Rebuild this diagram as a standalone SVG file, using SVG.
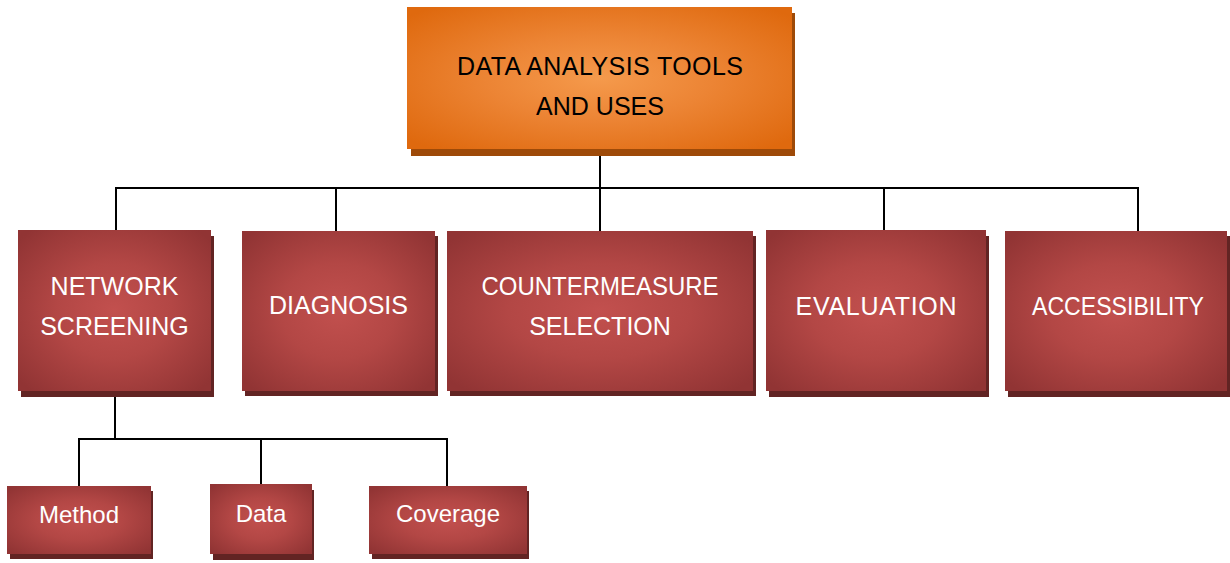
<svg xmlns="http://www.w3.org/2000/svg" width="1230" height="563" viewBox="0 0 1230 563">
  <defs>
    <radialGradient id="gRed" cx="0.5" cy="0.5" r="0.66">
      <stop offset="0" stop-color="#c2504e"/>
      <stop offset="0.45" stop-color="#b34745"/>
      <stop offset="1" stop-color="#913434"/>
    </radialGradient>
    <radialGradient id="gOrange" cx="0.5" cy="0.5" r="0.66">
      <stop offset="0" stop-color="#f59a4c"/>
      <stop offset="0.45" stop-color="#ec8434"/>
      <stop offset="1" stop-color="#df690e"/>
    </radialGradient>
    <style>
      .box { fill: url(#gRed); }
      .shadow { fill: #622423; }
      .top { fill: url(#gOrange); }
      .topShadow { fill: #9e4a08; }
      .lbl { font-family: "Liberation Sans", Arial, sans-serif; font-size: 25px; fill: #ffffff; text-anchor: middle; }
      .lblTop { font-family: "Liberation Sans", Arial, sans-serif; font-size: 25px; fill: #000000; text-anchor: middle; }
      .lblSmall { font-family: "Liberation Sans", Arial, sans-serif; font-size: 24px; fill: #ffffff; text-anchor: middle; }
      .wire { fill: none; stroke: #000000; stroke-width: 2; }
    </style>
  </defs>

  <!-- connectors -->
  <g id="connectors">
    <path class="wire" d="M600 149 V232"/>
    <path class="wire" d="M116 232 V188 H1138 V232"/>
    <path class="wire" d="M336 188 V232"/>
    <path class="wire" d="M884 188 V232"/>
    <path class="wire" d="M115 391 V439"/>
    <path class="wire" d="M79 486 V439 H447 V486"/>
    <path class="wire" d="M261 439 V484"/>
  </g>

  <!-- root -->
  <g id="root">
    <rect class="topShadow" x="411" y="13" width="384" height="143"/>
    <rect class="top" x="407" y="7" width="385" height="142"/>
    <text class="lblTop" x="600" y="75" textLength="286" lengthAdjust="spacing">DATA ANALYSIS TOOLS</text>
    <text class="lblTop" x="600" y="115">AND USES</text>
  </g>

  <!-- second level -->
  <g id="network-screening">
    <rect class="shadow" x="21" y="236" width="193" height="161"/>
    <rect class="box" x="18" y="230" width="193" height="161"/>
    <text class="lbl" x="114.5" y="295">NETWORK</text>
    <text class="lbl" x="114.5" y="335">SCREENING</text>
  </g>
  <g id="diagnosis">
    <rect class="shadow" x="245" y="236" width="193" height="160"/>
    <rect class="box" x="242" y="231" width="193" height="160"/>
    <text class="lbl" x="338.5" y="314">DIAGNOSIS</text>
  </g>
  <g id="countermeasure-selection">
    <rect class="shadow" x="450" y="236" width="306" height="160"/>
    <rect class="box" x="447" y="231" width="306" height="160"/>
    <text class="lbl" x="600" y="295" textLength="237" lengthAdjust="spacingAndGlyphs">COUNTERMEASURE</text>
    <text class="lbl" x="600" y="335">SELECTION</text>
  </g>
  <g id="evaluation">
    <rect class="shadow" x="769" y="236" width="220" height="161"/>
    <rect class="box" x="766" y="230" width="220" height="161"/>
    <text class="lbl" x="876" y="315" textLength="161" lengthAdjust="spacing">EVALUATION</text>
  </g>
  <g id="accessibility">
    <rect class="shadow" x="1008" y="236" width="222" height="161"/>
    <rect class="box" x="1005" y="231" width="222" height="160"/>
    <text class="lbl" x="1118" y="315" textLength="172" lengthAdjust="spacingAndGlyphs">ACCESSIBILITY</text>
  </g>

  <!-- third level -->
  <g id="method">
    <rect class="shadow" x="10" y="491" width="143" height="68"/>
    <rect class="box" x="7" y="486" width="144" height="68"/>
    <text class="lblSmall" x="79" y="523">Method</text>
  </g>
  <g id="data">
    <rect class="shadow" x="213" y="490" width="101" height="70"/>
    <rect class="box" x="210" y="484" width="102" height="70"/>
    <text class="lblSmall" x="261" y="522">Data</text>
  </g>
  <g id="coverage">
    <rect class="shadow" x="372" y="491" width="157" height="68"/>
    <rect class="box" x="369" y="486" width="158" height="68"/>
    <text class="lblSmall" x="448" y="522">Coverage</text>
  </g>
</svg>
